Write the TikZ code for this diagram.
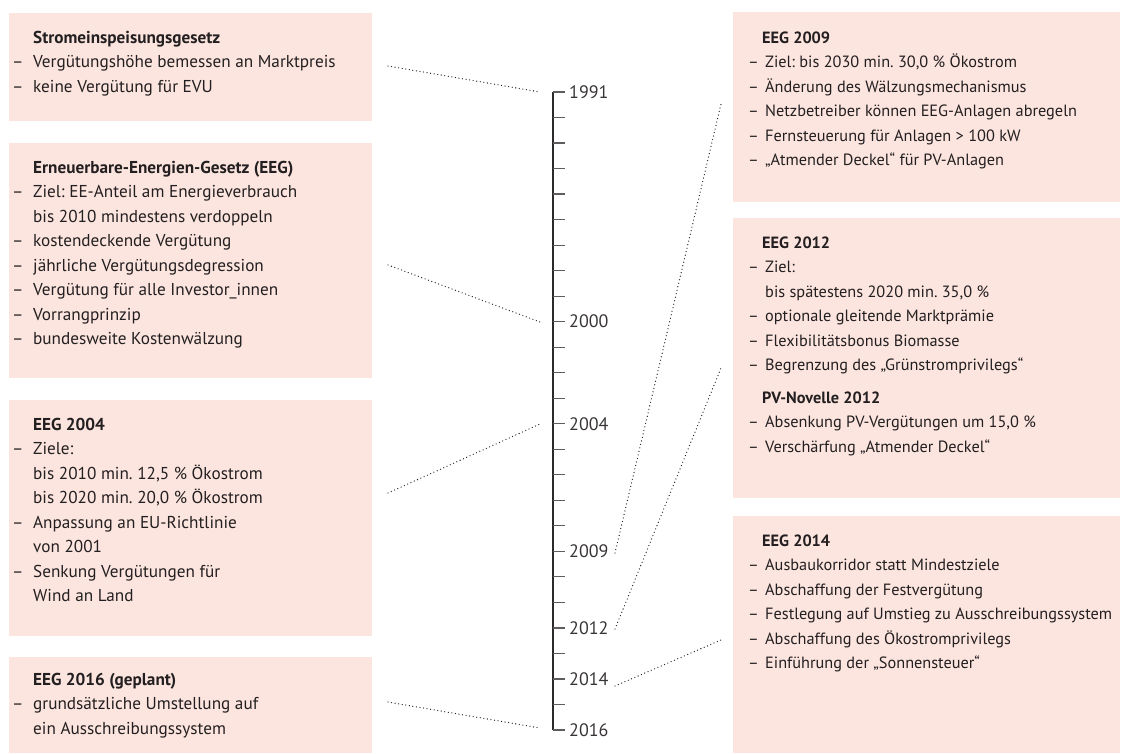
\documentclass[tikz,border=0pt]{standalone}
\usepackage{fontspec}
\setmainfont{PT Sans}
\frenchspacing
\definecolor{boxfill}{RGB}{252,229,223}
\definecolor{txt}{RGB}{35,31,32}
\definecolor{axiscol}{RGB}{45,42,43}
\definecolor{tickcol}{RGB}{95,92,93}
% left column: dash box and indent
\newcommand{\dL}{\makebox[21pt][l]{–}}
\newcommand{\cL}{\hspace*{21pt}}
% right column
\newcommand{\dR}{\makebox[17pt][l]{–}}
\newcommand{\cR}{\hspace*{17pt}}
\newcommand{\tR}{\hspace*{14pt}}
\tikzset{
  box/.style={fill=boxfill, draw=none, inner sep=0pt, outer sep=0pt, anchor=north west},
  txtblock/.style={anchor=north west, inner sep=0pt, align=left, text=txt},
  txtL/.style={txtblock, font=\fontsize{17.2}{24.5}\selectfont},
  txtR/.style={txtblock, font=\fontsize{16.3}{24.5}\selectfont},
  conn/.style={line width=1.3pt, txt, dash pattern=on 0pt off 3.6pt, line cap=round},
  yearlbl/.style={anchor=west, inner sep=0pt, text=txt!90, font=\fontsize{18}{20}\selectfont},
  axisline/.style={line width=2.6pt, axiscol},
  tickline/.style={line width=1.2pt, tickcol},
}
\begin{document}
\begin{tikzpicture}[x=1pt,y=-1pt]
\useasboundingbox (0,0) rectangle (1127,753);
% boxes left
\node[box, minimum width=363pt, minimum height=108pt] (b1) at (9,13) {};
\node[box, minimum width=363pt, minimum height=235pt] (b2) at (9,143) {};
\node[box, minimum width=363pt, minimum height=236pt] (b3) at (9,400) {};
\node[box, minimum width=363pt, minimum height=96pt] (b5) at (9,657) {};
% boxes right
\node[box, minimum width=387pt, minimum height=190pt] (r1) at (733,12) {};
\node[box, minimum width=387pt, minimum height=280pt] (r2) at (733,218) {};
\node[box, minimum width=387pt, minimum height=237pt] (r3) at (733,516) {};
% texts left
\node[txtL] (t1) at (12,26) {\strut\cL\textbf{Stromeinspeisungsgesetz}\\
\dL Vergütungshöhe bemessen an Marktpreis\\
\dL keine Vergütung für EVU};
\node[txtL] (t2) at (12,156) {\strut\cL\textbf{Erneuerbare-Energien-Gesetz (EEG)}\\
\dL Ziel: EE-Anteil am Energieverbrauch\\
\cL bis 2010 mindestens verdoppeln\\
\dL kostendeckende Vergütung\\
\dL jährliche Vergütungsdegression\\
\dL Vergütung für alle Investor\_innen\\
\dL Vorrangprinzip\\
\dL bundesweite Kostenwälzung};
\node[txtL] (t3) at (12,413) {\strut\cL\textbf{EEG 2004}\\
\dL Ziele:\\
\cL bis 2010 min. 12,5 \% Ökostrom\\
\cL bis 2020 min. 20,0 \% Ökostrom\\
\dL Anpassung an EU-Richtlinie\\
\cL von 2001\\
\dL Senkung Vergütungen für\\
\cL Wind an Land};
\node[txtL] (t5) at (12,668) {\strut\cL\textbf{EEG 2016 (geplant)}\\
\dL grundsätzliche Umstellung auf\\
\cL ein Ausschreibungssystem};
% texts right
\node[txtR] (u1) at (748,26) {\strut\tR\textbf{EEG 2009}\\
\dR Ziel: bis 2030 min. 30,0 \% Ökostrom\\
\dR Änderung des Wälzungsmechanismus\\
\dR Netzbetreiber können EEG-Anlagen abregeln\\
\dR Fernsteuerung für Anlagen > 100 kW\\
\dR „Atmender Deckel“ für PV-Anlagen};
\node[txtR] (u2) at (748,231) {\strut\tR\textbf{EEG 2012}\\
\dR Ziel:\\
\cR bis spätestens 2020 min. 35,0 \%\\
\dR optionale gleitende Marktprämie\\
\dR Flexibilitätsbonus Biomasse\\
\dR Begrenzung des „Grünstromprivilegs“\\[8pt]
\tR\textbf{PV-Novelle 2012}\\
\dR Absenkung PV-Vergütungen um 15,0 \%\\
\dR Verschärfung „Atmender Deckel“};
\node[txtR] (u3) at (748,529) {\strut\tR\textbf{EEG 2014}\\
\dR Ausbaukorridor statt Mindestziele\\
\dR Abschaffung der Festvergütung\\
\dR Festlegung auf Umstieg zu Ausschreibungssystem\\
\dR Abschaffung des Ökostromprivilegs\\
\dR Einführung der „Sonnensteuer“};
% axis
\coordinate (atop) at (553,92);
\coordinate (abot) at (553,730);
\draw[axisline] (atop) -- (abot);
\foreach \i in {0,...,25} {
  \draw[tickline] (553,{92+\i*25.52}) -- ++(12,0);
}
\node[yearlbl] (y1991) at (569,{92+0*25.52}) {1991};
\node[yearlbl] (y2000) at (569,{92+9*25.52}) {2000};
\node[yearlbl] (y2004) at (569,{92+13*25.52}) {2004};
\node[yearlbl] (y2009) at (569,{92+18*25.52}) {2009};
\node[yearlbl] (y2012) at (569,{92+21*25.52}) {2012};
\node[yearlbl] (y2014) at (569,{92+23*25.52}) {2014};
\node[yearlbl] (y2016) at (569,{92+25*25.52}) {2016};
% connectors
\coordinate (c1a) at (388,66);  \coordinate (c1b) at (540,92);
\coordinate (c2a) at (388,265); \coordinate (c2b) at (540,322);
\coordinate (c3a) at (388,493); \coordinate (c3b) at (540,424);
\coordinate (c5a) at (388,702); \coordinate (c5b) at (540,728);
\coordinate (d1a) at (615,553); \coordinate (d1b) at (721,104);
\coordinate (d2a) at (615,629); \coordinate (d2b) at (721,368);
\coordinate (d3a) at (615,686); \coordinate (d3b) at (721,640);
\draw[conn] (c1a) -- (c1b);
\draw[conn] (c2a) -- (c2b);
\draw[conn] (c3a) -- (c3b);
\draw[conn] (c5a) -- (c5b);
\draw[conn] (d1a) -- (d1b);
\draw[conn] (d2a) -- (d2b);
\draw[conn] (d3a) -- (d3b);
\end{tikzpicture}
\end{document}
